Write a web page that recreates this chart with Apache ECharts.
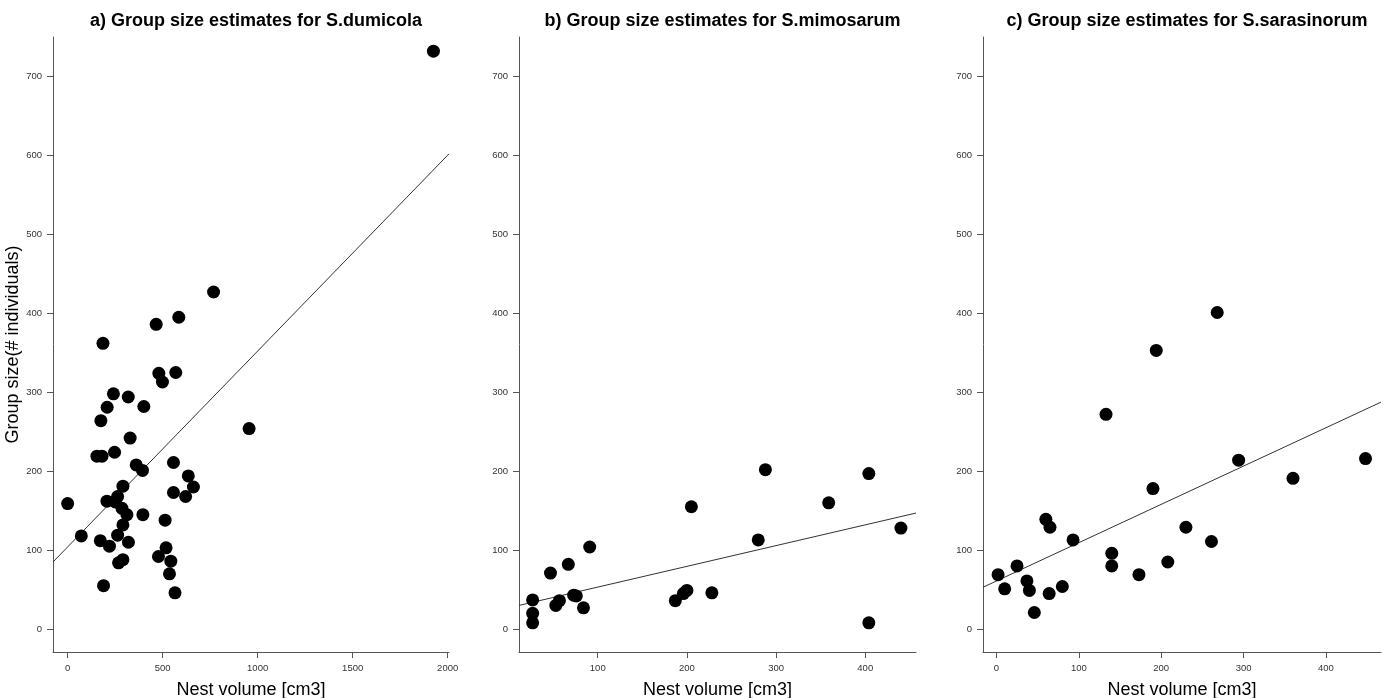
<!DOCTYPE html>
<html>
<head>
<meta charset="utf-8">
<script src="https://cdn.jsdelivr.net/npm/echarts@6/dist/echarts.min.js"></script>
<style>
html,body{margin:0;padding:0;background:#fff;}
#chart{width:1387px;height:698px;}
</style>
</head>
<body>
<div id="chart"></div>
<script>
// ---- Data ----
const titles = [
  'a) Group size estimates for S.dumicola',
  'b) Group size estimates for S.mimosarum',
  'c) Group size estimates for S.sarasinorum'
];
const xAxisTitle = 'Nest volume [cm3]';
const yAxisTitle = 'Group size(# individuals)';

// a) S.dumicola
const dumicolaVolume = [186,480,499,569,466,585,768,1925,241,319,208,401,175,955,329,247,154,181,557,361,394,635,662,291,557,621,0,263,207,251,286,312,396,513,291,72,263,172,220,320,518,478,543,268,291,536,189,565];
const dumicolaGroup  = [362,324,313,325,386,395,427,732,298,294,281,282,264,254,242,224,219,219,211,208,201,194,180,181,173,168,159,168,162,161,153,145,145,138,132,118,119,112,105,110,103,92,86,84,88,70,55,46];
const dumicolaFit = [[-77, 85], [2007, 602]];

// b) S.mimosarum
const mimosarumVolume = [288,404,359,205,440,280,91,67,47,200,196,228,187,27,57,53,73,76,84,27,27,404];
const mimosarumGroup  = [202,197,160,155,128,113,104,82,71,49,45,46,36,37,36,30,43,42,27,20,8,8];
const mimosarumFit = [[11.7, 30], [456.9, 147]];

// c) S.sarasinorum
const sarasinorumVolume = [268,194,133,294,448,360,190,60,65,230,93,261,140,140,208,173,25,2,37,10,40,80,64,46];
const sarasinorumGroup  = [401,353,272,214,216,191,178,139,129,129,113,111,96,80,85,69,80,69,61,51,49,54,45,21];
const sarasinorumFit = [[-16.3, 53], [466.8, 287.5]];

const xRanges = [[-77, 2007], [11.7, 456.9], [-16.3, 466.8]];
const xTickValues = [[0, 500, 1000, 1500, 2000], [100, 200, 300, 400], [0, 100, 200, 300, 400]];
const yRange = [-29, 750];
const yTickValues = [0, 100, 200, 300, 400, 500, 600, 700];

// ---- Build chart ----
const FONT = '"Liberation Sans", Arial, sans-serif';
const gridLefts = [53, 519, 983];
const gridWidths = [396, 397, 398];
const gridTop = 37, gridHeight = 615;

const panels = [
  {vx: dumicolaVolume, vy: dumicolaGroup, fit: dumicolaFit},
  {vx: mimosarumVolume, vy: mimosarumGroup, fit: mimosarumFit},
  {vx: sarasinorumVolume, vy: sarasinorumGroup, fit: sarasinorumFit}
];

const axisLineStyle = {color: '#555', width: 1};
const labelStyle = {color: '#333', fontSize: 9.5, fontFamily: FONT, formatter: v => String(v)};

const option = {
  backgroundColor: '#fff',
  animation: false,
  title: titles.map((t, i) => ({
    text: t,
    left: gridLefts[i] + gridWidths[i] / 2,
    top: 7,
    textAlign: 'center',
    textStyle: {fontFamily: FONT, fontWeight: 'bold', fontSize: 18, color: '#000'}
  })),
  grid: panels.map((p, i) => ({
    left: gridLefts[i], width: gridWidths[i], top: gridTop, height: gridHeight,
    containLabel: false,
    outerBoundsMode: 'none'
  })),
  xAxis: panels.map((p, i) => ({
    type: 'value',
    gridIndex: i,
    min: xRanges[i][0],
    max: xRanges[i][1],
    name: xAxisTitle,
    nameLocation: 'middle',
    nameGap: 29,
    nameTextStyle: {fontFamily: FONT, fontSize: 18, color: '#000'},
    axisLine: {show: true, onZero: false, lineStyle: axisLineStyle},
    axisTick: {show: true, length: 6, customValues: xTickValues[i], lineStyle: axisLineStyle},
    axisLabel: Object.assign({customValues: xTickValues[i], margin: 11}, labelStyle),
    splitLine: {show: false}
  })),
  yAxis: panels.map((p, i) => ({
    type: 'value',
    gridIndex: i,
    min: yRange[0],
    max: yRange[1],
    name: i === 0 ? yAxisTitle : '',
    nameLocation: 'middle',
    nameGap: 29,
    nameTextStyle: {fontFamily: FONT, fontSize: 18, color: '#000'},
    axisLine: {show: true, onZero: false, lineStyle: axisLineStyle},
    axisTick: {show: true, length: 6, customValues: yTickValues, lineStyle: axisLineStyle},
    axisLabel: Object.assign({customValues: yTickValues, margin: 11}, labelStyle),
    splitLine: {show: false}
  })),
  series: panels.flatMap((p, i) => [
    {
      type: 'line',
      xAxisIndex: i, yAxisIndex: i,
      data: p.fit,
      symbol: 'none',
      silent: true,
      lineStyle: {color: '#333', width: 1},
      z: 1
    },
    {
      type: 'scatter',
      xAxisIndex: i, yAxisIndex: i,
      data: p.vx.map((v, k) => [v, p.vy[k]]),
      symbol: 'circle',
      symbolSize: 13,
      itemStyle: {color: '#000', opacity: 1},
      z: 2
    }
  ])
};

const chart = echarts.init(document.getElementById('chart'), null, {renderer: 'canvas'});
chart.setOption(option);
</script>
</body>
</html>
